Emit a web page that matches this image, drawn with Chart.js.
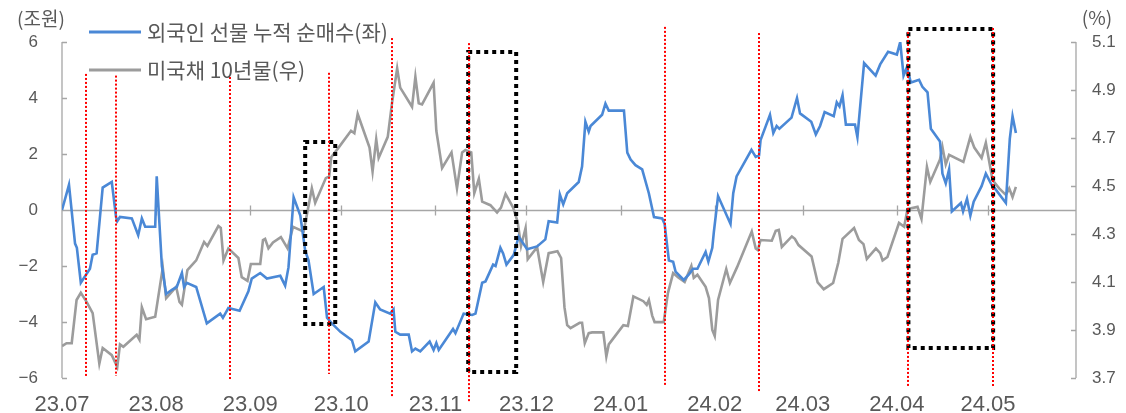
<!DOCTYPE html>
<html><head><meta charset="utf-8">
<script src="https://cdn.jsdelivr.net/npm/chart.js@4.4.1/dist/chart.umd.min.js"></script>
<style>html,body{margin:0;padding:0;background:#fff;}#wrap{width:1126px;height:413px;position:relative;}</style>
</head><body><div id="wrap"><canvas id="c" width="1126" height="413"></canvas></div>
<script>
// ---- data (x = days since 2023-07-01) ----
const futuresDays = [0,2.3,4.3,4.9,6.2,9.2,10.1,11.4,13.4,16.4,17.8,18.2,19.1,23.0,25.1,26.3,27.4,30.7,31.2,32.9,34.3,36.2,37.8,39.5,40.2,41.1,44.2,47.7,52.1,53.0,54.8,58.5,61.4,62.5,65.3,67.5,71.9,73.5,74.6,76.3,78.5,80.1,81.2,82.9,86.2,87.3,88.9,91.7,95.5,96.6,101.0,103.2,104.8,108.1,109.2,109.8,111.4,114.2,115.3,116.4,118.0,121.1,122.4,123.3,124.1,128.8,129.6,132.3,135.1,136.2,138.4,139.5,142.0,142.8,144.4,145.3,146.4,148.8,150.4,153.2,156.5,159.2,160.3,163.1,164.0,165.1,166.4,170.2,171.3,172.4,173.5,174.1,177.9,179.0,180.1,185.1,186.2,187.3,188.9,191.1,193.3,195.0,197.7,198.5,199.9,201.3,202.1,204.8,206.5,207.9,209.3,212.0,212.9,214.2,214.7,216.1,220.2,221.1,222.2,227.1,228.5,229.6,230.1,233.2,234.3,235.4,236.3,240.3,242.1,243.1,246.8,248.3,249.7,251.2,254.2,255.2,256.1,257.1,258.2,261.2,262.0,264.2,268.0,269.5,272.1,275.0,276.1,277.2,278.3,279.6,282.3,283.4,285.1,286.2,289.2,290.0,291.1,292.2,293.1,296.1,296.8,298.1,299.2,300.3,302.9,304.3,306.2,307.1,310.9,312.2,313.1,314.2];
const futuresValues = [0,0.9,-1.2,-1.35,-2.6,-2.1,-1.6,-1.55,0.8,1.0,-0.25,-0.4,-0.25,-0.3,-0.9,-0.3,-0.6,-0.6,1.2,-2.0,-3.0,-2.85,-2.75,-2.25,-2.75,-2.6,-2.75,-4.05,-3.7,-3.85,-3.5,-3.6,-2.9,-2.45,-2.25,-2.45,-2.35,-2.7,-2.05,0.45,-0.2,-1.45,-1.8,-3.0,-2.75,-3.85,-4.05,-4.35,-4.65,-5.05,-4.7,-3.3,-3.55,-3.7,-3.55,-4.35,-4.45,-4.45,-5.05,-4.95,-5.05,-4.7,-5.0,-4.75,-5.0,-4.25,-4.4,-3.7,-3.75,-3.7,-2.6,-2.55,-1.95,-2.0,-1.35,-1.55,-1.95,-1.6,-0.95,-1.4,-1.3,-1.05,-0.4,-0.45,0.55,0.2,0.6,1.0,1.55,3.15,2.8,3.0,3.4,3.8,3.55,3.55,2.05,1.8,1.6,1.45,0.6,-0.25,-0.3,-0.5,-1.8,-1.85,-2.2,-2.5,-2.3,-2.1,-2.1,-1.5,-1.85,-1.35,-0.8,0.5,-0.5,0.6,1.2,2.15,1.9,1.95,2.5,3.4,2.75,3.0,2.9,3.3,4.0,3.45,3.15,2.7,3.0,3.5,3.35,3.85,3.7,4.1,3.05,3.05,2.6,5.25,4.8,5.2,5.65,5.55,6.0,4.8,5.1,4.55,4.65,4.4,4.2,2.9,2.45,1.3,0.95,1.45,-0.05,0.25,-0.05,0.4,-0.2,0.3,0.85,1.3,0.9,0.8,0.25,2.55,3.35,2.75];
const treasuryDays = [0,1.5,3.2,4.8,6.2,8.1,10.1,12.3,13.4,16.4,18.2,19.1,20.2,21.5,24.6,25.5,26.3,27.7,30.7,33.2,34.3,37.6,38.7,39.5,41.3,44.2,46.8,47.9,51.5,52.3,53.2,54.8,58.1,59.2,61.1,62.2,65.3,66.2,66.9,68.0,69.5,72.1,74.3,76.1,79.6,82.3,83.4,86.9,88.0,88.7,91.1,95.2,96.3,97.4,101.3,102.3,103.5,104.3,107.3,108.7,110.4,111.4,115.3,116.4,117.5,118.6,122.4,123.3,125.2,128.3,130.1,131.8,132.9,134.8,135.8,137.3,138.4,141.1,143.3,144.6,146.1,148.6,150.1,151.2,152.7,153.4,156.5,158.5,160.3,163.2,164.4,165.5,166.4,167.5,170.5,171.3,172.2,173.5,174.6,178.3,179.3,180.1,184.9,186.4,188.2,191.5,192.6,193.3,194.4,195.2,198.2,199.6,201.3,202.9,205.1,207.3,208.1,209.3,212.0,213.1,214.2,215.0,216.1,218.8,220.0,222.4,227.2,228.5,229.2,230.1,233.8,235.1,236.1,237.1,240.4,241.4,242.6,246.9,248.9,250.9,252.1,254.0,255.7,257.1,260.9,262.5,264.0,265.1,268.1,269.5,270.3,271.9,275.7,277.4,278.5,281.8,283.1,284.9,286.0,289.2,290.0,291.1,292.2,296.9,299.2,300.5,302.9,304.3,306.5,308.7,310.9,312.0,313.1,314.2];
const treasuryValues = [3.833,3.845,3.845,4.025,4.055,4.017,3.97,3.76,3.825,3.795,3.746,3.84,3.83,3.845,3.88,3.86,3.995,3.945,3.955,4.16,4.033,4.08,4.017,4.005,4.15,4.19,4.267,4.25,4.333,4.325,4.19,4.24,4.2,4.12,4.105,4.175,4.175,4.275,4.28,4.24,4.265,4.287,4.24,4.33,4.31,4.49,4.43,4.533,4.54,4.62,4.66,4.73,4.72,4.8,4.66,4.56,4.695,4.617,4.705,4.845,4.99,4.91,4.83,4.955,4.845,4.84,4.93,4.73,4.575,4.64,4.49,4.64,4.65,4.64,4.47,4.53,4.435,4.42,4.39,4.41,4.467,4.41,4.35,4.25,4.325,4.195,4.245,4.1,4.22,4.228,4.2,3.995,3.92,3.908,3.93,3.93,3.845,3.887,3.89,3.89,3.79,3.84,3.92,3.917,4.04,4.02,4.005,4.025,3.96,3.933,3.933,4.055,4.137,4.12,4.1,4.167,4.117,4.13,4.08,4.033,3.9,3.875,4.025,4.154,4.096,4.163,4.31,4.24,4.233,4.275,4.272,4.313,4.317,4.246,4.29,4.28,4.254,4.206,4.098,4.07,4.08,4.096,4.18,4.28,4.325,4.275,4.258,4.196,4.24,4.22,4.19,4.204,4.346,4.33,4.404,4.413,4.363,4.58,4.517,4.61,4.663,4.59,4.63,4.6,4.705,4.66,4.617,4.68,4.525,4.49,4.463,4.49,4.454,4.496];
const monthLabels = ['23.07','23.08','23.09','23.10','23.11','23.12','24.01','24.02','24.03','24.04','24.05'];
const leftTicks = [-6,-4,-2,0,2,4,6];
const rightTicks = [3.7,3.9,4.1,4.3,4.5,4.7,4.9,5.1];
const seriesNames = ['외국인 선물 누적 순매수(좌)','미국채 10년물(우)'];
const axisTitles = ['(조원)','(%)'];
// event markers (day, top, bottom in left-axis units)
const eventDays = [7.9,17.8,55.4,88.0,108.8,134.2,198.5,229.5,278.6,306.6];
const eventTops = [4.86,4.8,4.75,4.9,6.14,5.96,6.54,6.32,6.36,6.5];
const eventBottoms = [-5.93,-5.93,-6.04,-5.86,-6.68,-6.86,-6.25,-6.5,-6.36,-6.32];
// highlight boxes (day range, top/bottom in left-axis units)
const boxStarts = [80.1,133.8,278.8];
const boxEnds = [90.0,149.6,306.7];
const boxTops = [2.43,5.64,6.46];
const boxBottoms = [-4.07,-5.79,-4.93];

const monthDays = monthLabels.map((_, i) => (Date.UTC(2023, 6 + i, 1) - Date.UTC(2023, 6, 1)) / 86400000);
const BLUE = '#4a88d6', GRAY = '#9c9c9c', TXT = '#595959', AX = '#a6a6a6';

const deco = {
  id: 'deco',
  beforeDatasetsDraw(chart) {
    const {ctx, chartArea: a, scales} = chart;
    const y = scales.y, x = scales.x;
    ctx.save();
    ctx.strokeStyle = AX; ctx.lineWidth = 1.3;
    ctx.beginPath();
    ctx.moveTo(a.left, a.top); ctx.lineTo(a.left, a.bottom);
    ctx.moveTo(a.right, a.top); ctx.lineTo(a.right, a.bottom);
    leftTicks.forEach(v => { const p = Math.round(y.getPixelForValue(v)) + 0.5; ctx.moveTo(a.left, p); ctx.lineTo(a.left + 5, p); });
    rightTicks.forEach(v => { const p = Math.round(scales.y2.getPixelForValue(v)) + 0.5; ctx.moveTo(a.right - 5, p); ctx.lineTo(a.right, p); });
    const z = Math.round(y.getPixelForValue(0)) + 0.5;
    ctx.moveTo(a.left, z); ctx.lineTo(a.right, z);
    monthDays.forEach((d, i) => { if (i === 0) return; const p = Math.round(x.getPixelForValue(d)) + 0.5; ctx.moveTo(p, z - 5); ctx.lineTo(p, z + 5); });
    ctx.stroke();
    ctx.restore();
  },
  afterDatasetsDraw(chart) {
    const {ctx, scales} = chart;
    const y = scales.y, x = scales.x;
    ctx.save();
    // boxes
    ctx.strokeStyle = '#000'; ctx.lineWidth = 4; ctx.setLineDash([4, 4]); ctx.lineCap = 'butt';
    boxStarts.forEach((s, i) => {
      const x0 = x.getPixelForValue(s), x1 = x.getPixelForValue(boxEnds[i]);
      const y0 = y.getPixelForValue(boxTops[i]), y1 = y.getPixelForValue(boxBottoms[i]);
      ctx.strokeRect(x0, y0, x1 - x0, y1 - y0);
    });
    // red event lines
    ctx.strokeStyle = '#ff0000'; ctx.lineWidth = 2; ctx.setLineDash([2, 2]);
    eventDays.forEach((d, i) => {
      const p = Math.round(x.getPixelForValue(d));
      ctx.beginPath(); ctx.moveTo(p, y.getPixelForValue(eventTops[i])); ctx.lineTo(p, y.getPixelForValue(eventBottoms[i])); ctx.stroke();
    });
    ctx.setLineDash([]);
    // legend
    const colors = [BLUE, GRAY];
    ctx.font = '21px "Noto Sans CJK KR"'; ctx.textBaseline = 'middle'; ctx.fillStyle = TXT;
    [32, 70].forEach((ly, i) => {
      ctx.strokeStyle = colors[i]; ctx.lineWidth = 3;
      ctx.beginPath(); ctx.moveTo(89, ly); ctx.lineTo(141, ly); ctx.stroke();
      ctx.fillText(seriesNames[i], 147, ly);
    });
    // axis titles
    ctx.font = '19px "Noto Sans CJK KR"'; ctx.textAlign = 'center';
    ctx.fillText(axisTitles[0], 41, 19);
    ctx.fillText(axisTitles[1], 1097, 18);
    ctx.restore();
  }
};

new Chart(document.getElementById('c'), {
  type: 'line',
  data: {
    datasets: [
      { label: seriesNames[0], data: futuresDays.map((d, i) => ({x: d, y: futuresValues[i]})), yAxisID: 'y', borderColor: BLUE, borderWidth: 2.6, pointRadius: 0, tension: 0, fill: false },
      { label: seriesNames[1], data: treasuryDays.map((d, i) => ({x: d, y: treasuryValues[i]})), yAxisID: 'y2', borderColor: GRAY, borderWidth: 2.6, pointRadius: 0, tension: 0, fill: false }
    ]
  },
  options: {
    responsive: false, animation: false,
    layout: { padding: { top: 42, left: 0, right: 0, bottom: 0 } },
    plugins: { legend: { display: false }, tooltip: { enabled: false } },
    scales: {
      x: {
        type: 'linear', min: 0, max: 334,
        afterBuildTicks: s => { s.ticks = monthDays.map(v => ({ value: v })); },
        ticks: { autoSkip: false, maxRotation: 0, padding: 14, color: TXT, font: { family: '"Liberation Sans", Arial', size: 22 },
          callback: (v) => { const i = monthDays.indexOf(v); return i >= 0 ? monthLabels[i] : ''; } },
        grid: { display: false, drawTicks: false }, border: { display: false },
        afterFit: s => { s.height = 35; }
      },
      y: {
        position: 'left', min: -6, max: 6,
        afterBuildTicks: s => { s.ticks = leftTicks.map(v => ({ value: v })); },
        ticks: { padding: 24, color: TXT, font: { family: '"Liberation Sans", Arial', size: 17 },
          callback: v => (v < 0 ? '\u2212' + Math.abs(v) : String(v)) },
        grid: { display: false, drawTicks: false }, border: { display: false },
        afterFit: s => { s.width = 62; }
      },
      y2: {
        position: 'right', min: 3.7, max: 5.1,
        afterBuildTicks: s => { s.ticks = rightTicks.map(v => ({ value: v })); },
        ticks: { padding: 16, color: TXT, font: { family: '"Liberation Sans", Arial', size: 17 },
          callback: v => Number(v).toFixed(1) },
        grid: { display: false, drawTicks: false }, border: { display: false },
        afterFit: s => { s.width = 50; }
      }
    }
  },
  plugins: [deco]
});
</script></body></html>
